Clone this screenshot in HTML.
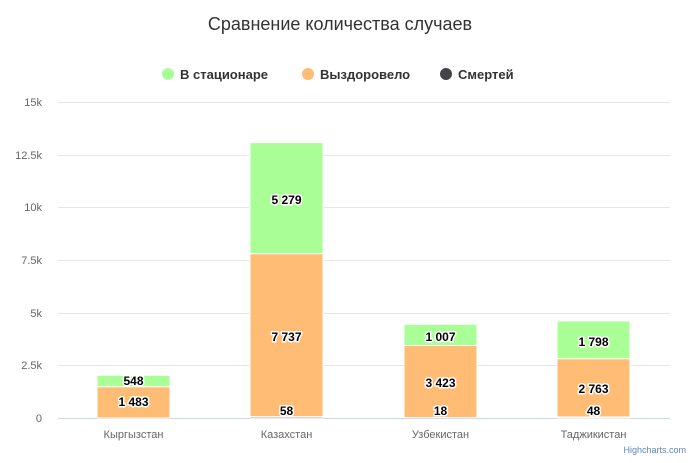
<!DOCTYPE html><html><head><meta charset="utf-8"><style>body{margin:0;background:#fff}svg{display:block;font-family:"Liberation Sans",sans-serif}</style></head><body>
<svg width="691" height="463" viewBox="0 0 691 463">
<text x="340" y="30" text-anchor="middle" font-size="18" fill="#333">Сравнение количества случаев</text>
<g font-size="13" font-weight="bold" fill="#333">
<circle cx="168" cy="74" r="6" fill="#a9ff96"/><text x="180" y="79">В стационаре</text>
<circle cx="308" cy="74" r="6" fill="#ffbc75"/><text x="320" y="79">Выздоровело</text>
<circle cx="446" cy="74" r="6" fill="#434348"/><text x="458" y="79">Смертей</text>
</g>
<g stroke="#e6e6e6" stroke-width="1">
<line x1="58" x2="670" y1="102.5" y2="102.5"/><line x1="58" x2="670" y1="155.5" y2="155.5"/><line x1="58" x2="670" y1="207.5" y2="207.5"/><line x1="58" x2="670" y1="260.5" y2="260.5"/><line x1="58" x2="670" y1="313.5" y2="313.5"/><line x1="58" x2="670" y1="365.5" y2="365.5"/>
</g>
<line x1="58" x2="670" y1="418.5" y2="418.5" stroke="#ccd6eb"/>
<g font-size="11" fill="#666" text-anchor="end">
<text x="42" y="106">15k</text><text x="42" y="159">12.5k</text><text x="42" y="211">10k</text><text x="42" y="264">7.5k</text><text x="42" y="317">5k</text><text x="42" y="369">2.5k</text><text x="42" y="422">0</text>
</g>
<g stroke="#fff" stroke-width="1">
<rect x="97" y="375.3" width="73" height="11.5" fill="#a9ff96"/>
<rect x="97" y="386.8" width="73" height="31.2" fill="#ffbc75"/>
<rect x="250" y="142.6" width="73" height="111.2" fill="#a9ff96"/>
<rect x="250" y="253.8" width="73" height="163" fill="#ffbc75"/>
<rect x="250" y="416.8" width="73" height="1.2" fill="#434348"/>
<rect x="404" y="324.3" width="73" height="21.2" fill="#a9ff96"/>
<rect x="404" y="345.5" width="73" height="72.1" fill="#ffbc75"/>
<rect x="557" y="320.9" width="73" height="37.9" fill="#a9ff96"/>
<rect x="557" y="358.8" width="73" height="58.2" fill="#ffbc75"/>
<rect x="557" y="417" width="73" height="1" fill="#434348"/>
</g>
<g font-size="12" font-weight="bold" text-anchor="middle" fill="#000" stroke="#fff" stroke-width="3" paint-order="stroke" stroke-linejoin="round">
<text x="133.5" y="385">548</text><text x="133.5" y="406">1 483</text>
<text x="286.5" y="204">5 279</text><text x="286.5" y="341">7 737</text><text x="286.5" y="415">58</text>
<text x="440.5" y="341">1 007</text><text x="440.5" y="387">3 423</text><text x="440.5" y="415">18</text>
<text x="593.5" y="346">1 798</text><text x="593.5" y="393">2 763</text><text x="593.5" y="415">48</text>
</g>
<g font-size="11" fill="#666" text-anchor="middle">
<text x="133.5" y="438">Кыргызстан</text><text x="286.5" y="438">Казахстан</text><text x="440.5" y="438">Узбекистан</text><text x="593.5" y="438">Таджикистан</text>
</g>
<text x="686" y="453" text-anchor="end" font-size="9" fill="#5b86b8">Highcharts.com</text>
</svg></body></html>
